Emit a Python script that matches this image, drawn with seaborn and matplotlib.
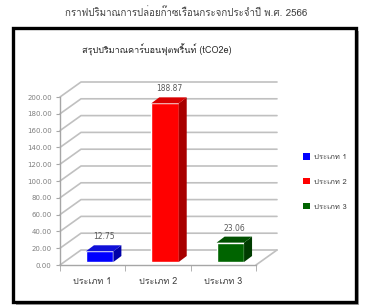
import matplotlib
matplotlib.use("Agg")
import matplotlib.pyplot as plt
import matplotlib.patches as mpatches
from matplotlib import font_manager
from matplotlib.ft2font import FT2Font
import pandas as pd
import seaborn as sns

# ── Data ──────────────────────────────────────────────────────────────────────
categories = ["ประเภท 1", "ประเภท 2", "ประเภท 3"]
values = [12.75, 188.87, 23.06]
front_colors = ["#0000FF", "#FF0000", "#006400"]
side_colors = ["#0000A8", "#A80000", "#003C00"]
top_colors = ["#1010D8", "#D80000", "#005000"]
yticks = list(range(0, 201, 20))

page_title = "กราฟปริมาณการปล่อยก๊าซเรือนกระจกประจำปี พ.ศ. 2566"
chart_title = "สรุปปริมาณคาร์บอนฟุตพริ้นท์ (tCO2e)"


# ── Font with Thai glyphs ─────────────────────────────────────────────────────
def find_thai_font():
    found = []
    for f in font_manager.fontManager.ttflist:
        try:
            if 0x0E01 in FT2Font(f.fname).get_charmap():
                found.append(f.name)
        except Exception:
            pass
    return found[0] if found else "DejaVu Sans"


sns.set_style("white")
thai = find_thai_font()
plt.rcParams["font.family"] = [thai, "DejaVu Sans"]

W, H, DPI = 377, 307, 100
fig = plt.figure(figsize=(W / DPI, H / DPI), dpi=DPI)

# chart box with shadow
box = (13, 28, 356, 302)  # left, top, right, bottom in px
bx, by = box[0] / W, 1 - box[3] / H
bw, bh = (box[2] - box[0]) / W, (box[3] - box[1]) / H
fig.patches.append(mpatches.Rectangle((bx + 3 / W, by - 3 / H), bw, bh, transform=fig.transFigure,
                                      facecolor="#a8a8a8", edgecolor="none", zorder=0))
fig.patches.append(mpatches.Rectangle((bx, by), bw, bh, transform=fig.transFigure,
                                      facecolor="white", edgecolor="black", linewidth=2.4, zorder=1))

ax_px = (60, 97, 256, 265)  # left, top, right, bottom
ax = fig.add_axes([ax_px[0] / W, 1 - ax_px[3] / H, (ax_px[2] - ax_px[0]) / W, (ax_px[3] - ax_px[1]) / H])
ax.set_facecolor("none")
ax.set_zorder(2)

df = pd.DataFrame({"category": categories, "value": values})
sns.barplot(data=df, x="category", y="value", hue="category", palette=front_colors,
            width=0.42, dodge=False, legend=False, ax=ax, saturation=1, zorder=5)

ax.set_xlim(-0.5, 2.5)
ax.set_ylim(0, 200)

# pixel -> data helpers
sx = 3 / (ax_px[2] - ax_px[0])
sy = 200 / (ax_px[3] - ax_px[1])
wall_dx, wall_dy = 21 * sx, 15 * sy
bar_dx, bar_dy = 7 * sx, 3 * sy
dep_dx, dep_dy = 8 * sx, 6 * sy

grid_kw = dict(color="#c0c0c0", linewidth=1.2, clip_on=False, zorder=1)
for t in yticks:
    ax.plot([-0.5, -0.5 + wall_dx, 2.5 + wall_dx], [t, t + wall_dy, t + wall_dy], **grid_kw)
# floor right edge
ax.plot([2.5, 2.5 + wall_dx], [0, wall_dy], **grid_kw)

# 3D bars
for patch, val, side, top in zip(ax.patches, values, side_colors, top_colors):
    x0 = patch.get_x() + bar_dx
    w = patch.get_width()
    patch.set_x(x0)
    patch.set_y(bar_dy)
    patch.set_clip_on(False)
    x1, y0, y1 = x0 + w, bar_dy, bar_dy + val
    ax.add_patch(mpatches.Polygon([(x1, y0), (x1 + dep_dx, y0 + dep_dy), (x1 + dep_dx, y1 + dep_dy), (x1, y1)],
                                  closed=True, facecolor=side, edgecolor="none", clip_on=False, zorder=5))
    ax.add_patch(mpatches.Polygon([(x0, y1), (x0 + dep_dx, y1 + dep_dy), (x1 + dep_dx, y1 + dep_dy), (x1, y1)],
                                  closed=True, facecolor=top, edgecolor="none", clip_on=False, zorder=5))
    ax.text(x0 + w / 2 + dep_dx / 2, y1 + dep_dy + 4 * sy, f"{val:.2f}", ha="center", va="bottom",
            fontsize=5.5, color="#595959", family="DejaVu Sans")

# axes styling
sns.despine(ax=ax, top=True, right=True)
for s in ("left", "bottom"):
    ax.spines[s].set_color("#a6a6a6")
    ax.spines[s].set_linewidth(1.0)
ax.set_yticks(yticks)
ax.set_yticklabels([f"{t:.2f}" for t in yticks], fontsize=5, color="#7f7f7f", family="DejaVu Sans")
ax.tick_params(axis="y", length=3, color="#a6a6a6", pad=3, left=True)
ax.set_xticks(range(len(categories)))
ax.set_xticklabels(categories, fontsize=6.5, color="#404040")
ax.set_xticks([-0.5, 0.5, 1.5, 2.5], minor=True)
ax.tick_params(axis="x", which="major", length=0, pad=9)
ax.tick_params(axis="x", which="minor", length=4, color="#a6a6a6", bottom=True)
ax.set_xlabel("")
ax.set_ylabel("")

# legend
handles = [mpatches.Patch(facecolor=c, edgecolor="none") for c in front_colors]
fig.legend(handles, categories, loc="center left", bbox_to_anchor=(296 / W, 1 - 182 / H),
           frameon=False, fontsize=5.5, labelspacing=2.2, handlelength=0.9, handleheight=0.9,
           handletextpad=0.6, labelcolor="#404040")

fig.text(186 / W, 1 - 13 / H, page_title, ha="center", va="center", fontsize=7, color="#404040")
fig.text(157 / W, 1 - 50 / H, chart_title, ha="center", va="center", fontsize=6.5, color="#262626")

fig.savefig("out.png", dpi=DPI)
